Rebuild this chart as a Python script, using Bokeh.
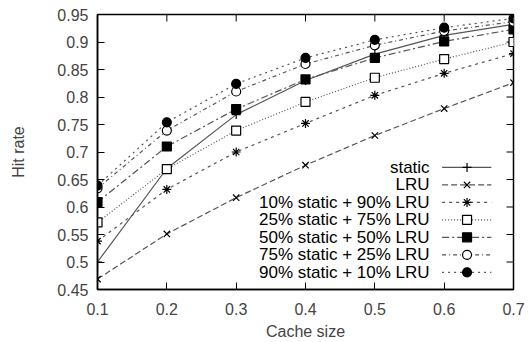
import math
from bokeh.plotting import figure
from bokeh.models import FixedTicker, Range1d
from bokeh.core.properties import value
from bokeh.embed import file_html
from bokeh.resources import INLINE

cache = [0.1, 0.2, 0.3, 0.4, 0.5, 0.6, 0.7]
static = [0.500, 0.670, 0.768, 0.830, 0.878, 0.912, 0.932]
lru = [0.469, 0.551, 0.617, 0.676, 0.730, 0.779, 0.826]
s10 = [0.538, 0.632, 0.700, 0.752, 0.803, 0.843, 0.879]
s25 = [0.572, 0.669, 0.739, 0.791, 0.835, 0.869, 0.900]
s50 = [0.609, 0.710, 0.778, 0.832, 0.871, 0.901, 0.923]
s75 = [0.634, 0.739, 0.810, 0.860, 0.894, 0.920, 0.937]
s90 = [0.639, 0.754, 0.824, 0.871, 0.904, 0.926, 0.943]

names = ["static", "LRU", "10% static + 90% LRU", "25% static + 75% LRU",
         "50% static + 50% LRU", "75% static + 25% LRU", "90% static + 10% LRU"]
series = [static, lru, s10, s25, s50, s75, s90]
x_ticks = [0.1, 0.2, 0.3, 0.4, 0.5, 0.6, 0.7]
y_ticks = [0.45, 0.5, 0.55, 0.6, 0.65, 0.7, 0.75, 0.8, 0.85, 0.9, 0.95]

styles = [
    dict(dash="solid", marker="cross", fill=None),
    dict(dash="6 3", marker="x", fill=None),
    dict(dash="3 4", marker="asterisk", fill=None),
    dict(dash="1 2", marker="square", fill="white"),
    dict(dash="7 3 2 3", marker="square", fill="black"),
    dict(dash="4 3 1 3", marker="circle", fill="white"),
    dict(dash="2 4", marker="circle", fill="black"),
]

FONT = "Liberation Sans"
LINE = "#555555"
FS_TICK = "16px"
FS_KEY = "17px"

x0, x1, y0, y1 = 0.1, 0.7, 0.45, 0.95
p = figure(width=528, height=342, output_backend="svg", toolbar_location=None,
           x_range=Range1d(x0, x1), y_range=Range1d(y0, y1),
           min_border_left=97, min_border_right=15, min_border_top=14, min_border_bottom=53)
p.grid.visible = False
p.outline_line_color = "black"
p.outline_line_width = 1.5
p.background_fill_color = "white"
p.border_fill_color = "white"

for ax, ticks in ((p.xaxis[0], x_ticks), (p.yaxis[0], y_ticks)):
    ax.ticker = FixedTicker(ticks=ticks)
    ax.major_tick_in = 7
    ax.major_tick_out = 0
    ax.minor_tick_line_color = None
    ax.axis_line_color = "black"
    ax.axis_line_width = 1.5
    ax.major_label_text_font = FONT
    ax.major_label_text_font_size = FS_TICK
    ax.axis_label_text_font = FONT
    ax.axis_label_text_font_size = "16px"
    ax.axis_label_text_font_style = "normal"

p.xaxis[0].axis_label = "Cache size"
p.xaxis[0].major_label_standoff = 13
p.xaxis[0].axis_label_standoff = 5
p.yaxis[0].axis_label = "Hit rate"
p.yaxis[0].major_label_standoff = 9
p.yaxis[0].axis_label_standoff = 27

# mirrored inward ticks on top and right edges (gnuplot style)
p.ray(x=x_ticks, y=[y1] * len(x_ticks), length=7, length_units="screen",
      angle=-math.pi / 2, line_color="black", line_width=1)
p.ray(x=[x1] * len(y_ticks), y=y_ticks, length=7, length_units="screen",
      angle=math.pi, line_color="black", line_width=1)

for ys, st in zip(series, styles):
    p.line(cache, ys, line_color=LINE, line_width=1.2, line_dash=st["dash"])
    kw = dict(size=9, line_color="black", line_width=1.2)
    if st["fill"] is None:
        p.scatter(cache, ys, marker=st["marker"], **kw)
    else:
        p.scatter(cache, ys, marker=st["marker"], fill_color=st["fill"], **kw)

# gnuplot-style key: right-aligned text, sample to the right
key_text_x = 0.579
key_line = (0.597, 0.668)
key_mark_x = 0.633
key_y0 = 0.672
key_dy = 0.0318
ys_key = [key_y0 - i * key_dy for i in range(len(names))]
p.text(x=[key_text_x] * len(names), y=ys_key, text=names, text_align="right",
       text_baseline="middle", text_font=value(FONT), text_font_size=FS_KEY,
       text_color="black")
for yk, st in zip(ys_key, styles):
    p.line(list(key_line), [yk, yk], line_color=LINE, line_width=1.2, line_dash=st["dash"])
    kw = dict(size=9, line_color="black", line_width=1.2)
    if st["fill"] is None:
        p.scatter([key_mark_x], [yk], marker=st["marker"], **kw)
    else:
        p.scatter([key_mark_x], [yk], marker=st["marker"], fill_color=st["fill"], **kw)

open("out.html", "w").write(file_html(p, INLINE))
